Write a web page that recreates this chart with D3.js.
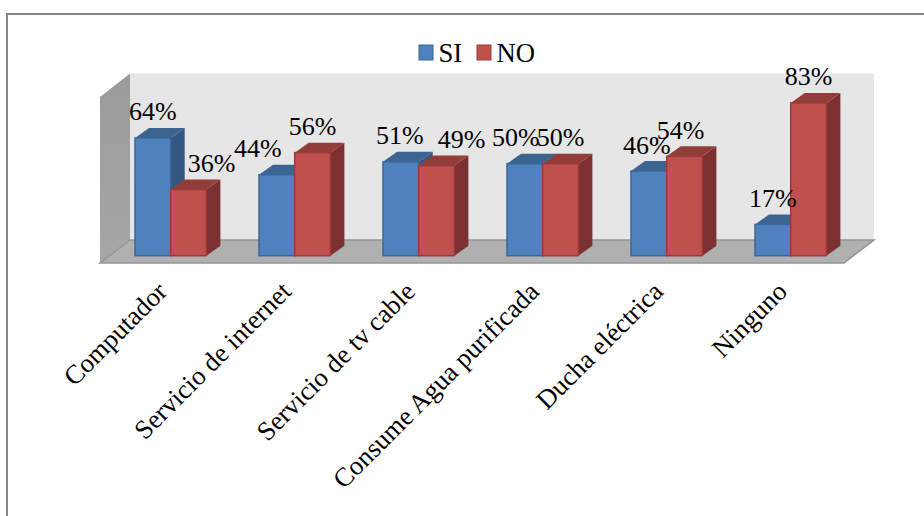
<!DOCTYPE html>
<html>
<head>
<meta charset="utf-8">
<script src="https://cdn.jsdelivr.net/npm/d3@7/dist/d3.min.js"></script>
<style>
  html, body { margin: 0; padding: 0; background: #fff; }
  svg { display: block; }
  text { font-family: "Liberation Serif", serif; fill: #000; }
</style>
</head>
<body>
<svg id="chart" width="924" height="516"></svg>
<script>
const categories = ["Computador", "Servicio de internet", "Servicio de tv cable",
  "Consume Agua purificada", "Ducha eléctrica", "Ninguno"];
const seriesNames = ["SI", "NO"];
const siValues = [64, 44, 51, 50, 46, 17];
const noValues = [36, 56, 49, 50, 54, 83];

// Sideways shifts that keep neighbouring percentage labels from colliding.
const siLabelShift = [0, -19, -1, -9, -2, 0];
const noLabelShift = [23, 0, 25, 0, -4, 0];

const palette = {
  SI: { front: "#4f81bd", edge: "#3b6797", top: "#3c6491", side: "#345782" },
  NO: { front: "#c0504d", edge: "#9a3b39", top: "#933d3b", side: "#7d3030" }
};

const fontSize = 26.67;
const svg = d3.select("#chart");

// Chart frame; its right and bottom edges run past the window.
svg.append("rect").attr("x", 7).attr("y", 14).attr("width", 940).attr("height", 520)
  .attr("fill", "#fff").attr("stroke", "#868686").attr("stroke-width", 2);

const floorY = 263, backY = 240, wallTop = 73.5;
const depthX = 30, left = 100, right = 844;
const barDx = 14, barDy = 10;

const x0 = d3.scaleBand().domain(categories).range([left, right]);
const x1 = d3.scaleBand().domain(seriesNames).range([35, 106.4]);
const y = d3.scaleLinear().domain([0, 100]).range([255.7, 71.7]);

const polygon = pts => d3.line()(pts) + "Z";

// Box walls
const leftWallShade = svg.append("defs").append("linearGradient")
  .attr("id", "leftWall").attr("x1", 0).attr("x2", 0).attr("y1", 0).attr("y2", 1);
leftWallShade.append("stop").attr("offset", 0).attr("stop-color", "#9b9b9b");
leftWallShade.append("stop").attr("offset", 1).attr("stop-color", "#a6a6a6");

svg.append("rect").attr("x", left + depthX).attr("y", wallTop)
  .attr("width", right - left).attr("height", backY - wallTop).attr("fill", "#e6e6e6");
svg.append("path")
  .attr("d", polygon([[left, 97], [left + depthX, wallTop], [left + depthX, backY], [left, floorY]]))
  .attr("fill", "url(#leftWall)");
svg.append("path")
  .attr("d", polygon([[left, floorY], [left + depthX, backY], [right + depthX, backY], [right, floorY]]))
  .attr("fill", "#b0b0b0");
svg.append("path")
  .attr("d", d3.line()([[left + depthX, backY], [right + depthX, backY], [right, floorY], [left, floorY], [left + depthX, backY]]))
  .attr("fill", "none").attr("stroke", "#949494").attr("stroke-width", 1.5);

// Bars: right-hand face, top face, then the front
const rows = categories.flatMap((c, i) => [
  { category: c, series: "SI", value: siValues[i], shift: siLabelShift[i] },
  { category: c, series: "NO", value: noValues[i], shift: noLabelShift[i] }
]);

const bars = svg.append("g").selectAll("g").data(rows).join("g");
const xa = d => x0(d.category) + x1(d.series);
const xb = d => xa(d) + x1.bandwidth();

bars.append("path")
  .attr("d", d => polygon([[xb(d), y(d.value)], [xb(d) + barDx, y(d.value) - barDy],
    [xb(d) + barDx, y(0) - barDy], [xb(d), y(0)]]))
  .attr("fill", d => palette[d.series].side);
bars.append("path")
  .attr("d", d => polygon([[xa(d), y(d.value)], [xa(d) + barDx, y(d.value) - barDy],
    [xb(d) + barDx, y(d.value) - barDy], [xb(d), y(d.value)]]))
  .attr("fill", d => palette[d.series].top);
bars.append("rect")
  .attr("x", xa).attr("y", d => y(d.value))
  .attr("width", x1.bandwidth()).attr("height", d => y(0) - y(d.value))
  .attr("fill", d => palette[d.series].front)
  .attr("stroke", d => palette[d.series].edge).attr("stroke-width", 1.5);

// Percentage labels
svg.append("g").selectAll("text").data(rows).join("text")
  .attr("x", d => xa(d) + x1.bandwidth() / 2 + d.shift)
  .attr("y", d => y(d.value) - 17.5)
  .attr("text-anchor", "middle").attr("font-size", 26)
  .text(d => d.value + "%");

// Category axis with slanted labels
const axis = svg.append("g").attr("transform", `translate(0,${floorY})`)
  .call(d3.axisBottom(x0).tickSize(0));
axis.select(".domain").remove();
axis.selectAll("text")
  .attr("font-size", fontSize).attr("text-anchor", "end")
  .style("font-family", '"Liberation Serif", serif')
  .attr("dx", 0).attr("dy", 0)
  .attr("transform", "translate(4.5,28) rotate(-45)");

// Legend
const legendX = d3.scalePoint().domain(seriesNames).range([419, 477]);
const legend = svg.append("g").selectAll("g").data(seriesNames).join("g")
  .attr("transform", d => `translate(${legendX(d)},45)`);
legend.append("rect").attr("width", 14).attr("height", 15)
  .attr("fill", d => palette[d].front)
  .attr("stroke", d => palette[d].edge).attr("stroke-width", 1);
legend.append("text").attr("x", 19.5).attr("y", 16.5).attr("font-size", fontSize).text(d => d);
</script>
</body>
</html>
